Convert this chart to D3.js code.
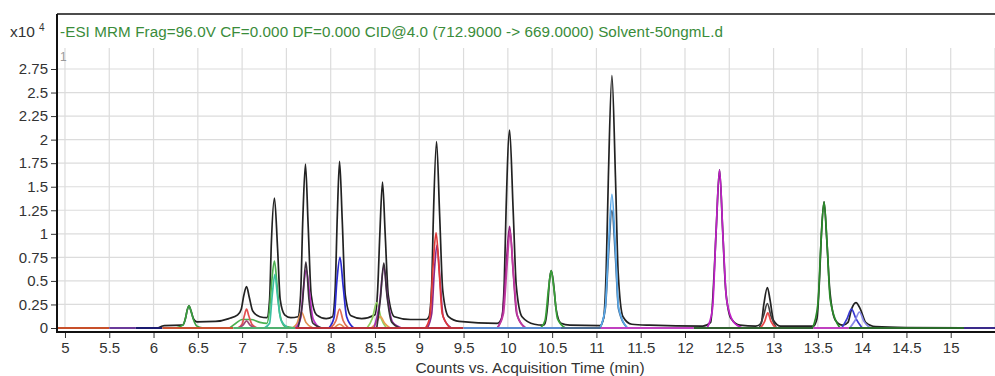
<!DOCTYPE html>
<html>
<head>
<meta charset="utf-8">
<script src="https://cdn.jsdelivr.net/npm/d3@7"></script>
<style>
  body { margin: 0; background: #fff; }
  svg { display: block; font-family: "Liberation Sans", Arial, sans-serif; }
</style>
</head>
<body>
<svg id="chart"></svg>
<script>
// ---------------- data (x = min, y = counts x10^4) ----------------
var titleText = "-ESI MRM Frag=96.0V CF=0.000 DF=0.000 CID@4.0 (712.9000 -> 669.0000) Solvent-50ngmL.d";
var xTicks = [5,5.5,6,6.5,7,7.5,8,8.5,9,9.5,10,10.5,11,11.5,12,12.5,13,13.5,14,14.5,15,15.5];
var xTickLabels = ["5","5.5","6","6.5","7","7.5","8","8.5","9","9.5","10","10.5","11","11.5","12","12.5","13","13.5","14","14.5","15",""];
var yTicks = [0,0.25,0.5,0.75,1,1.25,1.5,1.75,2,2.25,2.5,2.75];
var yTickLabels = ["0","0.25","0.5","0.75","1","1.25","1.5","1.75","2","2.25","2.5","2.75"];

// summed (black) trace
var blackTrace = [[6.05,0],[6.12,0.025],[6.32,0.03],
  [6.33,0.03],[6.36,0.1],[6.38,0.19],[6.4,0.236],[6.42,0.19],[6.45,0.1],[6.49,0.065],
  [6.7,0.07],[6.85,0.1],[6.95,0.14],[6.99,0.2],[7.02,0.35],[7.05,0.44],[7.08,0.33],[7.12,0.18],[7.2,0.12],
  [7.28,0.11],[7.31,0.3],[7.33,0.9],[7.365,1.38],[7.4,0.85],[7.43,0.3],[7.48,0.14],[7.55,0.11],
  [7.63,0.12],[7.66,0.35],[7.685,1.15],[7.715,1.74],[7.745,1.1],[7.78,0.35],[7.84,0.14],[7.95,0.1],
  [8.02,0.12],[8.05,0.4],[8.075,1.2],[8.1,1.77],[8.13,1.15],[8.165,0.35],[8.23,0.13],[8.35,0.1],
  [8.5,0.14],[8.53,0.4],[8.555,1.0],[8.585,1.55],[8.615,1.0],[8.65,0.35],[8.72,0.12],[8.9,0.09],[9.08,0.09],
  [9.11,0.12],[9.14,0.45],[9.16,1.2],[9.195,1.98],[9.23,1.2],[9.265,0.4],[9.33,0.12],[9.45,0.07],[9.88,0.05],
  [9.93,0.1],[9.96,0.5],[9.98,1.25],[10.02,2.1],[10.06,1.25],[10.095,0.45],[10.16,0.12],[10.3,0.04],[10.4,0.03],
  [10.42,0.05],[10.45,0.25],[10.47,0.5],[10.49,0.61],[10.515,0.48],[10.545,0.2],[10.6,0.05],[10.7,0.03],[11.04,0.025],
  [11.08,0.1],[11.11,0.6],[11.135,1.6],[11.175,2.68],[11.215,1.6],[11.245,0.6],[11.3,0.12],[11.4,0.04],[11.6,0.03],[12.2,0.02],
  [12.29,0.06],[12.33,0.6],[12.355,1.1],[12.39,1.68],[12.425,1.05],[12.46,0.4],[12.52,0.1],[12.62,0.03],[12.8,0.02],
  [12.86,0.05],[12.89,0.25],[12.93,0.43],[12.96,0.3],[13.0,0.08],[13.08,0.02],[13.45,0.02],
  [13.49,0.1],[13.52,0.55],[13.54,1.0],[13.57,1.34],[13.6,0.95],[13.635,0.4],[13.7,0.08],[13.78,0.03],
  [13.84,0.06],[13.88,0.2],[13.93,0.27],[13.98,0.2],[14.04,0.06],[14.15,0.015],[14.5,0.005],[15.5,0]];

// individual MRM transitions
var green640 = [[6.25,0],[6.33,0.03],[6.36,0.1],[6.38,0.19],[6.4,0.236],[6.42,0.19],[6.45,0.09],[6.49,0.02],[6.56,0]];
var greenHump = [[6.86,0],[6.93,0.05],[7.0,0.09],[7.1,0.09],[7.2,0.06],[7.28,0.05],[7.31,0.2],[7.335,0.5],[7.365,0.71],[7.395,0.45],[7.425,0.15],[7.48,0.02],[7.6,0]];
var teal737 = [[7.25,0],[7.31,0.05],[7.34,0.35],[7.37,0.57],[7.4,0.33],[7.44,0.08],[7.52,0]];
var red705 = [[6.95,0],[7.0,0.04],[7.025,0.13],[7.05,0.2],[7.075,0.13],[7.11,0.04],[7.17,0]];
var mauve705 = [[6.96,0],[7.01,0.03],[7.05,0.075],[7.09,0.03],[7.14,0]];
var orange767 = [[7.57,0],[7.62,0.05],[7.67,0.17],[7.72,0.06],[7.8,0]];
var magenta772 = [[7.6,0],[7.66,0.1],[7.69,0.4],[7.725,0.62],[7.76,0.38],[7.8,0.1],[7.88,0]];
var dark772 = [[7.63,0],[7.68,0.25],[7.72,0.7],[7.755,0.3],[7.8,0.05],[7.9,0]];
var blue810 = [[7.98,0],[8.04,0.12],[8.07,0.5],[8.105,0.75],[8.14,0.45],[8.18,0.12],[8.26,0]];
var salmon810 = [[8.0,0],[8.06,0.08],[8.1,0.2],[8.14,0.08],[8.2,0]];
var orange810 = [[8.04,0],[8.1,0.04],[8.16,0]];
var lgreen852 = [[8.41,0],[8.47,0.1],[8.52,0.27],[8.57,0.1],[8.63,0]];
var orange855 = [[8.46,0],[8.51,0.05],[8.56,0.12],[8.61,0.05],[8.67,0]];
var purple860 = [[8.49,0],[8.55,0.25],[8.6,0.65],[8.64,0.33],[8.7,0.06],[8.8,0]];
var dark860 = [[8.52,0],[8.56,0.3],[8.6,0.69],[8.635,0.35],[8.69,0.06],[8.78,0]];
var red919 = [[9.07,0],[9.12,0.12],[9.155,0.65],[9.19,1.01],[9.225,0.6],[9.26,0.15],[9.35,0]];
var purple919 = [[9.09,0],[9.14,0.15],[9.17,0.6],[9.2,0.88],[9.235,0.5],[9.27,0.12],[9.36,0]];
var purple1002 = [[9.88,0],[9.94,0.15],[9.98,0.65],[10.02,1.08],[10.06,0.6],[10.1,0.15],[10.2,0]];
var magenta1002 = [[9.88,0],[9.95,0.15],[9.99,0.65],[10.025,1.03],[10.065,0.55],[10.11,0.12],[10.2,0]];
var green1049 = [[10.37,0],[10.42,0.08],[10.46,0.42],[10.49,0.61],[10.52,0.42],[10.56,0.1],[10.65,0]];
var slate1117 = [[11.04,0],[11.1,0.2],[11.135,0.75],[11.175,1.25],[11.215,0.75],[11.25,0.2],[11.35,0]];
var lblue1117 = [[11.04,0],[11.1,0.22],[11.135,0.85],[11.175,1.42],[11.215,0.85],[11.25,0.22],[11.35,0]];
var magenta1239 = [[12.25,0],[12.31,0.2],[12.35,1.0],[12.39,1.68],[12.43,0.95],[12.47,0.3],[12.55,0.06],[12.65,0]];
var dark1293 = [[12.84,0],[12.89,0.14],[12.93,0.26],[12.97,0.13],[13.03,0]];
var red1293 = [[12.85,0],[12.9,0.07],[12.935,0.16],[12.97,0.07],[13.03,0]];
var dgreen1357 = [[13.44,0],[13.5,0.25],[13.535,0.9],[13.57,1.34],[13.605,0.88],[13.64,0.3],[13.75,0]];
var blue1388 = [[13.77,0],[13.83,0.1],[13.88,0.2],[13.93,0.1],[14.0,0]];
var lav1397 = [[13.86,0],[13.92,0.08],[13.97,0.17],[14.02,0.07],[14.09,0]];

// flat baseline windows of each segment
var baseStarts = [4.91,5.5,5.8,6.1,6.9,7.6,9.5,10.6,11.05,12.1,13.45,13.85,15.15];
var baseEnds   = [5.5,5.8,6.1,6.9,7.6,9.5,10.6,11.05,12.1,13.45,13.85,15.15,15.5];

// ---------------- styles ----------------
var peakSeries = [
  {d:green640, c:"#3aa040"}, {d:greenHump, c:"#4cb050"}, {d:teal737, c:"#3cc0a0"},
  {d:red705, c:"#e05050"}, {d:mauve705, c:"#a04a78"}, {d:orange767, c:"#e09050"},
  {d:magenta772, c:"#c030c8"}, {d:dark772, c:"#3a303a"}, {d:blue810, c:"#2a2ad0"},
  {d:salmon810, c:"#e06a50"}, {d:orange810, c:"#e09050"}, {d:lgreen852, c:"#90d060"},
  {d:orange855, c:"#e8a050"}, {d:purple860, c:"#a030b0"}, {d:dark860, c:"#383038"},
  {d:purple919, c:"#8a2a8a"}, {d:red919, c:"#e03838"},
  {d:purple1002, c:"#8a1a7a"}, {d:magenta1002, c:"#c03aa0"}, {d:green1049, c:"#38a038"},
  {d:slate1117, c:"#3a5a7a"}, {d:lblue1117, c:"#5aa8e8"}, {d:magenta1239, c:"#c020c8"},
  {d:dark1293, c:"#404040"}, {d:red1293, c:"#e84848"}, {d:dgreen1357, c:"#2a8a2a"},
  {d:blue1388, c:"#3a3ad0"}, {d:lav1397, c:"#8a8ae8"}
];
var baseColors = ["#c8502a","#6a3a9a","#1a1a70","#c85030","#50b070","#b8303a","#5a8ad0","#4a6a90","#c040c0","#306030","#c040c0","#2a6a2a","#3a2a8a"];

var screen = {width:995, height:376};
var svg = d3.select("#chart").attr("width", screen.width).attr("height", screen.height);

var plot = {left:57, right:995, top:48, frameTop:14, bottom:328};
var xScale = d3.scaleLinear().domain([4.91,15.5]).range([plot.left, plot.right]);
var yScale = d3.scaleLinear().domain([0,2.75]).range([plot.bottom, 69]);

// grid
svg.append("g").selectAll("line.v")
  .data(xTicks).enter().append("line")
  .attr("x1", function(d){return xScale(d);}).attr("x2", function(d){return xScale(d);})
  .attr("y1", plot.top).attr("y2", plot.bottom)
  .attr("stroke", "#dcdcdc").attr("stroke-width", 1.2);
svg.append("g").selectAll("line.h")
  .data(yTicks.slice(1)).enter().append("line")
  .attr("x1", plot.left).attr("x2", plot.right)
  .attr("y1", function(d){return yScale(d);}).attr("y2", function(d){return yScale(d);})
  .attr("stroke", "#dcdcdc").attr("stroke-width", 1.2);

// traces
svg.append("clipPath").attr("id","clip").append("rect")
  .attr("x", plot.left+1).attr("y", plot.top).attr("width", plot.right-plot.left).attr("height", plot.bottom-plot.top+3);
var traces = svg.append("g").attr("clip-path","url(#clip)");
var line = d3.line()
  .x(function(d){return xScale(d[0]);})
  .y(function(d){return yScale(d[1]);})
  .curve(d3.curveMonotoneX);

traces.append("path").datum(blackTrace)
  .attr("d", line).attr("fill","none").attr("stroke","#222").attr("stroke-width",1.7);
traces.selectAll("path.peak").data(peakSeries).enter().append("path")
  .attr("class","peak")
  .attr("d", function(s){return line(s.d);})
  .attr("fill","none").attr("stroke", function(s){return s.c;}).attr("stroke-width",1.7);
traces.selectAll("path.base").data(baseStarts).enter().append("path")
  .attr("class","base")
  .attr("d", function(d,i){return line([[d,0],[baseEnds[i],0]]);})
  .attr("fill","none").attr("stroke", function(d,i){return baseColors[i];}).attr("stroke-width",2);

// frame
svg.append("line").attr("x1", plot.left).attr("x2", screen.width)
  .attr("y1", plot.frameTop).attr("y2", plot.frameTop).attr("stroke","#111").attr("stroke-width",1.5);

// axes
var yAxis = d3.axisLeft(yScale).tickValues(yTicks).tickSize(6).tickPadding(3)
  .tickFormat(function(d,i){return yTickLabels[i];});
var gy = svg.append("g").attr("transform","translate("+plot.left+",0)").call(yAxis);
gy.select(".domain").remove();
gy.selectAll("text").attr("font-size",15).attr("fill","#333").attr("font-family","Liberation Sans, Arial, sans-serif");
gy.selectAll("line").attr("stroke","#333");

var xAxis = d3.axisBottom(xScale).tickValues(xTicks).tickSize(6).tickPadding(4)
  .tickFormat(function(d,i){return xTickLabels[i];});
var gx = svg.append("g").attr("transform","translate(0,332)").call(xAxis);
gx.select(".domain").remove();
gx.selectAll("text").attr("font-size",15).attr("fill","#333").attr("font-family","Liberation Sans, Arial, sans-serif");
gx.selectAll("line").attr("stroke","#333");

svg.append("line").attr("x1", plot.left).attr("x2", plot.left)
  .attr("y1", plot.frameTop).attr("y2", 333).attr("stroke","#111").attr("stroke-width",2);
svg.append("line").attr("x1", plot.left-1).attr("x2", screen.width)
  .attr("y1", 332).attr("y2", 332).attr("stroke","#111").attr("stroke-width",2);

// labels
var mult = svg.append("text").attr("x", 10).attr("y", 37).attr("font-size",15.5).attr("fill","#333");
mult.append("tspan").text("x10");
mult.append("tspan").attr("dx",4).attr("dy",-6).attr("font-size",10).text("4");

svg.append("text").attr("x", 60).attr("y", 37).attr("font-size",15.2).attr("letter-spacing",0.1).attr("fill","#3a8c3a")
  .text(titleText);
svg.append("text").attr("x", 60).attr("y", 61).attr("font-size",12).attr("fill","#999").text("1");

svg.append("text").attr("x", 530).attr("y", 373).attr("text-anchor","middle")
  .attr("font-size",15.5).attr("fill","#333").text("Counts vs. Acquisition Time (min)");
</script>
</body>
</html>
